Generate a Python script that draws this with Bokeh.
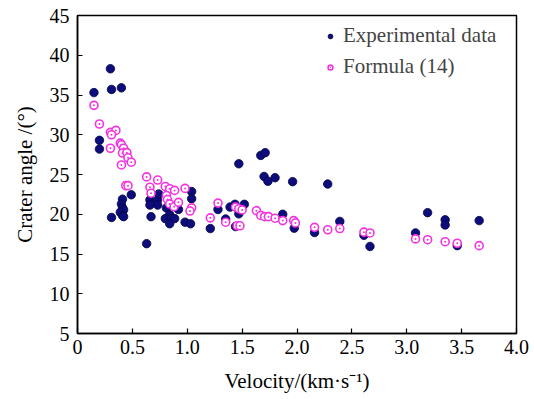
from bokeh.plotting import figure
from bokeh.models import Legend, LegendItem, FixedTicker, PrintfTickFormatter, Range1d
from bokeh.embed import file_html
from bokeh.resources import INLINE

x_exp = [0.15, 0.30, 0.31, 0.40, 0.20, 0.20,
         0.49, 0.41, 0.40, 0.41, 0.42, 0.39, 0.41, 0.42, 0.31,
         0.67, 0.63, 0.66, 0.66, 0.73, 0.73, 0.74,
         0.81, 0.84, 0.80, 0.85, 0.885, 0.84, 0.92, 0.98, 1.03, 1.04, 1.04,
         1.21, 1.28, 1.35, 1.39, 1.435, 1.52, 1.47, 1.44, 1.47, 1.67, 1.71, 1.70, 1.735, 1.80, 1.96, 2.28,
         1.87, 1.975, 2.16, 2.39,
         2.61, 2.665, 3.08, 3.19, 3.35, 3.35, 3.46, 3.66]
y_exp = [35.3, 38.3, 35.7, 35.9, 29.3, 28.2,
         22.45, 21.9, 21.3, 20.8, 20.55, 20.25, 19.85, 19.7, 19.6,
         19.7, 16.3, 21.8, 21.15, 21.8, 21.15, 22.55,
         20.8, 19.95, 19.45, 19.45, 19.45, 18.8, 20.6, 19.0, 18.8, 22.85, 21.95,
         18.2, 20.6, 19.4, 20.9, 21.25, 21.25, 20.05, 18.45, 26.35, 27.4, 27.75, 24.75, 24.15, 24.6, 24.1, 23.8,
         20.0, 18.25, 17.7, 19.1,
         17.35, 15.95, 17.65, 20.2, 19.3, 18.65, 16.05, 19.2]

x_formula = [0.15, 0.20, 0.30, 0.35, 0.31, 0.30, 0.39, 0.40, 0.42, 0.41, 0.45, 0.46, 0.49, 0.40,
             0.44, 0.46, 0.63, 0.73, 0.66, 0.67, 0.80, 0.84, 0.885, 0.98, 0.81, 0.82, 0.84, 0.88, 0.92, 1.04, 1.025,
             1.21, 1.28, 1.35, 1.44, 1.47, 1.50, 1.455, 1.48, 1.63, 1.67, 1.705, 1.74, 1.80, 1.87, 1.97, 1.985,
             2.16, 2.28, 2.39,
             2.61, 2.665, 3.08, 3.19, 3.35, 3.46, 3.66]
y_formula = [33.7, 31.35, 30.3, 30.55, 30.0, 28.3, 28.95, 28.75, 28.3, 27.7, 27.75, 27.1, 26.55, 26.2,
             23.6, 23.6, 24.7, 24.3, 23.4, 22.65, 23.5, 23.2, 23.0, 23.25, 22.35, 21.85, 21.3, 20.95, 21.5, 20.8, 20.4,
             19.55, 21.4, 19.0, 20.9, 20.7, 20.55, 18.55, 18.55, 20.45, 19.85, 19.7, 19.7, 19.5, 19.2, 19.2, 18.9,
             18.35, 18.05, 18.2,
             17.75, 17.65, 16.9, 16.8, 16.55, 16.35, 16.05]

x_ticks = [0, 0.5, 1.0, 1.5, 2.0, 2.5, 3.0, 3.5, 4.0]
y_ticks = [5, 10, 15, 20, 25, 30, 35, 40, 45]

FONT = "Liberation Serif"

p = figure(width=534, height=399, output_backend="svg", toolbar_location=None,
           x_range=Range1d(0, 4), y_range=Range1d(5, 45),
           min_border_left=77, min_border_right=18, min_border_top=15, min_border_bottom=66)
p.grid.visible = False
p.background_fill_color = "white"
p.border_fill_color = "white"
p.outline_line_color = "black"
p.outline_line_width = 1.5

r_exp = p.scatter(x_exp, y_exp, marker="circle", size=8.5, fill_color="#0c0c7a",
                  line_color="#05054a", line_width=0.8)
r_for = p.scatter(x_formula, y_formula, marker="circle_dot", size=8, fill_color="white",
                  line_color="#f532e0", line_width=1.6)

for ax in (p.xaxis[0], p.yaxis[0]):
    ax.major_tick_in = 5
    ax.major_tick_out = 0
    ax.minor_tick_in = 0
    ax.minor_tick_out = 0
    ax.axis_line_color = "black"
    ax.axis_line_width = 1.5
    ax.major_tick_line_width = 1.2
    ax.major_label_text_font = FONT
    ax.major_label_text_font_size = "20px"
    ax.major_label_text_color = "black"
    ax.axis_label_text_font = FONT
    ax.axis_label_text_font_size = "21px"
    ax.axis_label_text_font_style = "normal"
    ax.axis_label_text_color = "black"

p.xaxis.ticker = FixedTicker(ticks=x_ticks)
p.xaxis.formatter = PrintfTickFormatter(format="%.1f")
p.xaxis.major_label_overrides = {0: "0"}
p.xaxis.axis_label = "Velocity/(km·s⁻¹)"
p.xaxis.major_label_standoff = 6
p.xaxis.axis_label_standoff = 12

p.yaxis.ticker = FixedTicker(ticks=y_ticks)
p.yaxis.axis_label = "Crater angle /(°)"
p.yaxis.major_label_standoff = 8
p.yaxis.axis_label_standoff = 10

legend = Legend(items=[LegendItem(label="Experimental data", renderers=[r_exp]),
                       LegendItem(label="Formula (14)", renderers=[r_for])],
                location=(247, 254))
legend.background_fill_alpha = 0
legend.border_line_alpha = 0
legend.label_text_font = FONT
legend.label_text_font_size = "21px"
legend.glyph_width = 12
legend.glyph_height = 12
legend.label_standoff = 7
legend.spacing = 6
legend.label_height = 23
legend.padding = 0
legend.margin = 0
p.add_layout(legend)

open("out.html", "w").write(file_html(p, INLINE))
